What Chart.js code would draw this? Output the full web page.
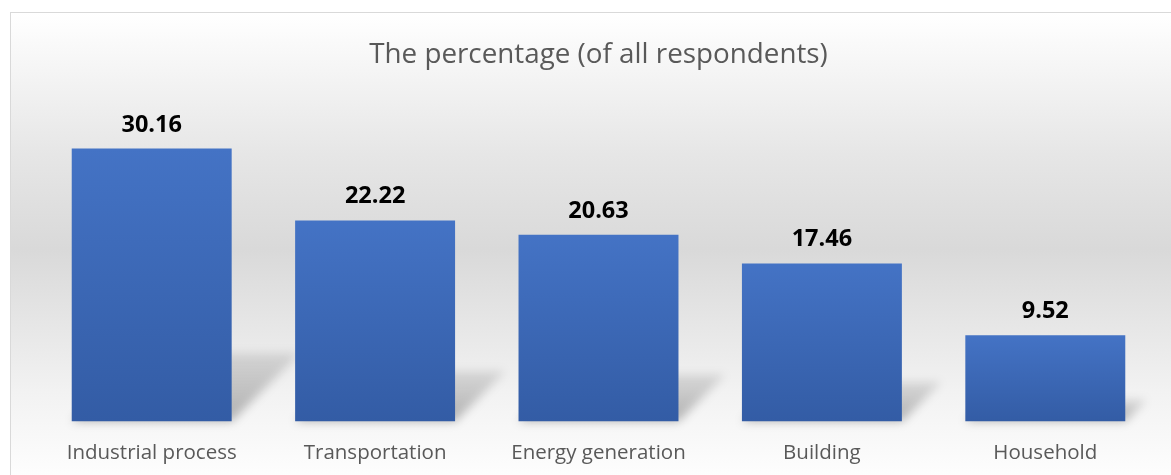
<!DOCTYPE html>
<html>
<head>
<meta charset="utf-8">
<script src="https://cdn.jsdelivr.net/npm/chart.js@4.4.0/dist/chart.umd.min.js"></script>
<style>
  html, body { margin: 0; padding: 0; background: #fff; overflow: hidden; }
  #frame {
    position: absolute; left: 10px; top: 12px;
    width: 1176px; height: 473px;
    border: 1px solid #d9d9d9;
    background: linear-gradient(to bottom, #ffffff 0%, #e6e6e6 30%, #d9d9d9 50%, #f2f2f2 80%, #ffffff 100%);
  }
  #grafico { display: block; }
</style>
</head>
<body>
<div id="frame"><canvas id="grafico" width="1176" height="463"></canvas></div>
<script>
const categorias = ["Industrial process", "Transportation", "Energy generation", "Building", "Household"];
const valores = [30.16, 22.22, 20.63, 17.46, 9.52];
const titulo = "The percentage (of all respondents)";

// sombra em perspectiva atrás de cada barra
const sombraBarras = {
    id: "sombraBarras",
    beforeDatasetsDraw(chart) {
        const ctx = chart.ctx;
        const meta = chart.getDatasetMeta(0);
        ctx.save();
        ctx.filter = "blur(5px)";
        meta.data.forEach(bar => {
            const x0 = bar.x - bar.width / 2;
            const x1 = bar.x + bar.width / 2;
            const base = bar.base;
            const k = (base - bar.y) * 0.25;
            const g = ctx.createLinearGradient(0, base, 0, base - k);
            g.addColorStop(0, "rgba(0,0,0,0.28)");
            g.addColorStop(1, "rgba(0,0,0,0.10)");
            ctx.fillStyle = g;
            ctx.beginPath();
            ctx.moveTo(x0, base);
            ctx.lineTo(x1, base);
            ctx.lineTo(x1 + k, base - k);
            ctx.lineTo(x0 + k, base - k);
            ctx.closePath();
            ctx.fill();
        });
        ctx.restore();
    }
};

// rótulos de valor acima das barras
const rotulos = {
    id: "rotulos",
    afterDatasetsDraw(chart) {
        const ctx = chart.ctx;
        const meta = chart.getDatasetMeta(0);
        ctx.save();
        ctx.font = "bold 23.5px 'Open Sans'";
        ctx.fillStyle = "#000";
        ctx.textAlign = "center";
        ctx.textBaseline = "alphabetic";
        meta.data.forEach((bar, i) => {
            ctx.fillText(valores[i].toFixed(2), bar.x, bar.y - 17);
        });
        ctx.restore();
    }
};

const ctx = document.getElementById("grafico").getContext("2d");
new Chart(ctx, {
    type: "bar",
    data: {
        labels: categorias,
        datasets: [{
            data: valores,
            backgroundColor: context => {
                const chart = context.chart;
                const area = chart.chartArea;
                if (!area || context.raw === undefined) return "#4472c4";
                const y = chart.scales.y;
                const topo = y.getPixelForValue(context.raw);
                const base = y.getPixelForValue(0);
                const g = chart.ctx.createLinearGradient(0, topo, 0, base);
                g.addColorStop(0, "#4473c5");
                g.addColorStop(1, "#335ca5");
                return g;
            },
            borderWidth: 0,
            barPercentage: 0.716,
            categoryPercentage: 1
        }]
    },
    options: {
        responsive: false,
        animation: false,
        devicePixelRatio: 1,
        layout: { padding: { left: 29, right: 30, top: 0, bottom: 0 } },
        plugins: {
            legend: { display: false },
            tooltip: { enabled: false },
            title: {
                display: true,
                text: titulo,
                color: "#595959",
                font: { family: "'Open Sans'", size: 27.8, weight: "normal", lineHeight: 1.2 },
                padding: { top: 25, bottom: 60.6 }
            }
        },
        scales: {
            x: {
                grid: { display: false },
                border: { display: false },
                ticks: {
                    color: "#595959",
                    font: { family: "'Open Sans'", size: 20.5 },
                    padding: 11,
                    maxRotation: 0,
                    autoSkip: false
                }
            },
            y: {
                display: false,
                min: 0,
                max: 32
            }
        }
    },
    plugins: [sombraBarras, rotulos]
});
</script>
</body>
</html>
